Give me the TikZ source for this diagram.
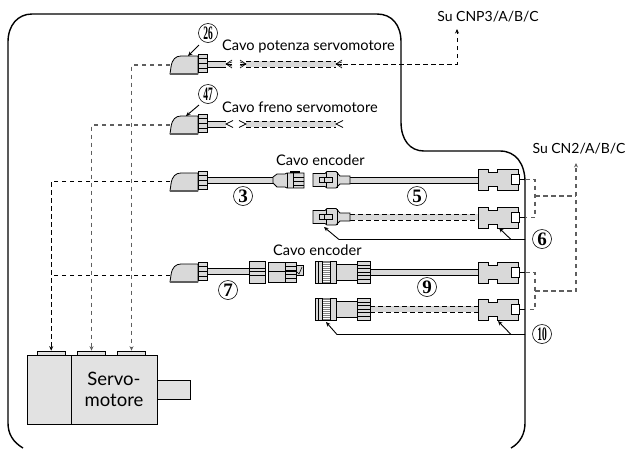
\documentclass[tikz,border=0pt]{standalone}
\usepackage{fontspec}
\setmainfont{Lato}
\newfontfamily\numfont{Liberation Serif}[Scale=1]
\usetikzlibrary{arrows.meta}

\definecolor{partgray}{HTML}{D9D9D9}
\definecolor{motorgray}{HTML}{E2E2E2}
\definecolor{dashgray}{HTML}{5E5E5E}

\tikzset{
    wire/.style={black, line width=.9pt, dash pattern=on 4.5pt off 3.5pt},
    graywire/.style={wire, dashgray, line width=1.1pt},
    tipline/.style={-{Stealth[length=4.5pt, width=4pt]}},
    leader/.style={black, line width=.9pt},
    numcircle/.style={circle, draw, line width=.6pt, inner sep=0pt, minimum size=19pt, font=\numfont\bfseries\fontsize{19}{19}\selectfont},
    label/.style={font=\fontsize{14.6}{15}\selectfont},
    sulabel/.style={font=\fontsize{14}{15}\selectfont},
    part/.style={draw, fill=partgray, line width=.8pt},
    tabbox/.style={draw, fill=motorgray, line width=.7pt, minimum width=28.5pt, minimum height=4pt, inner sep=0pt},
    motorbox/.style={draw, fill=motorgray, line width=.8pt, minimum height=69pt, inner sep=0pt},
    pics/motorplug/.style={code={
        \draw[part] (0,10) -- (1,3) .. controls (2,-5) and (6,-8) .. (11,-8) -- (28,-8) -- (28,10) -- cycle;
        \draw[dashgray, line width=1.6pt] (-.5,10) -- (28,10);
        \draw[part] (28,-10) rectangle (37,8);
        \draw[line width=.6pt] (28,-6) -- (37,-6) (28,-1) -- (37,-1) (28,4) -- (37,4);
    }},
    pics/wirefan/.style={code={
        \foreach \spread in {-4,-2,0,2,4}
            \draw[line width=.6pt] (0,0) -- (6,\spread);
    }},
    pics/wirefork/.style={code={
        \draw[line width=.7pt] (7,-3.5) -- (0,0) -- (7,3.5);
    }},
    pics/dsub/.style={code={
        \draw[part] (0,-10.5) -- (10,-10.5) -- (10,-7) -- (19,-7) -- (19,-10.5) -- (40,-10.5) -- (40,10.5)
            -- (19,10.5) -- (19,7) -- (10,7) -- (10,10.5) -- (0,10.5) -- cycle;
        \draw[fill=white, line width=.9pt] (33,-5.5) rectangle (41,5);
        \draw[line width=.7pt] (41,0) -- (47,0);
    }},
    pics/smallplug/.style={code={
        \draw[part] (0,-6.5) -- (12,-6.5) -- (14,-8.5) -- (23,-8.5) -- (27,-4) -- (37,-4) -- (37,4) -- (27,4) -- (23,8) -- (14,8) -- (12,6.5) -- (0,6.5) -- cycle;
        \draw[line width=.6pt] (13,-8) -- (13,8) (24,-8) -- (24,8);
        \draw[fill=partgray, line width=.7pt] (6,-2.5) rectangle (19,2.5);
        \draw[line width=.7pt] (11,-2.5) -- (11,2.5);
    }},
    pics/roundplug/.style={code={
        \draw[part] (0,-11) rectangle (21,11);
        \fill[gray] (7,-11) rectangle (15,11);
        \foreach \groove in {-9,-7,...,9}
            \draw[line width=.3pt, white] (7,\groove) -- (15,\groove);
        \draw[line width=.6pt] (3,-11) -- (3,11) (7,-11) -- (7,11) (15,-11) -- (15,11);
        \draw[part] (21,-8) rectangle (42,8);
        \draw[part] (42,-11) rectangle (55,11);
        \foreach \groove in {-7,-3.5,0,3.5,7}
            \draw[line width=.6pt] (42,\groove) -- (55,\groove);
    }},
}

\newcommand{\solidcable}[3]{%
    \fill[partgray] (#1,#3-3) rectangle (#2,#3+3);
    \draw[line width=.9pt] (#1,#3-3) -- (#2,#3-3) (#1,#3+3) -- (#2,#3+3);
}
\newcommand{\dashcable}[3]{%
    \fill[partgray] (#1,#3-3) rectangle (#2,#3+3);
    \draw[wire, line width=.8pt] (#1,#3-3) -- (#2,#3-3) (#1,#3+3) -- (#2,#3+3);
}

\begin{document}
\begin{tikzpicture}[x=1pt, y=-1pt]
    \useasboundingbox (0,0) rectangle (628,448);

    % Draw frame
    \draw[line width=1.4pt] (23,448) .. controls (13,442) and (8,434) .. (8,423) -- (8,42)
        .. controls (8,25) and (18,14) .. (32,14) -- (377,14)
        .. controls (392,14) and (401,25) .. (401,42) -- (401,122)
        .. controls (401,140) and (410,151) .. (424,151) -- (500,151)
        .. controls (516,151) and (525,164) .. (525,182) -- (525,423)
        .. controls (525,434) and (520,443) .. (511,448);

    % Draw motor
    \node[motorbox, minimum width=44pt] (brake) at (49,389.5) {};
    \node[motorbox, minimum width=86pt, align=center, font=\fontsize{18.5}{21}\selectfont] (motor) at (114,389.5) {Servo-\\motore};
    \node[draw, fill=motorgray, line width=.7pt, minimum width=33pt, minimum height=19pt, inner sep=0pt] (shaft) at (173.5,389.5) {};
    \node[tabbox] (tab1) at (51.2,353) {};
    \node[tabbox] (tab2) at (91.5,353) {};
    \node[tabbox] (tab3) at (131.5,353) {};

    % Draw cables
    \solidcable{207}{226}{64}
    \dashcable{246}{336}{64}
    \solidcable{207}{226}{124}
    \dashcable{246}{336}{124}
    \solidcable{206}{273}{180}
    \solidcable{350}{478}{180}
    \dashcable{350}{478}{217}
    \solidcable{205}{249}{271.5}
    \solidcable{370}{478}{272.5}
    \dashcable{370}{478}{309}

    % Draw connectors
    \pic at (170,64) {motorplug};
    \pic at (170,124) {motorplug};
    \pic at (170,181) {motorplug};
    \pic at (170,272) {motorplug};
    \pic at (226,64) {wirefan};
    \pic[xscale=-1] at (246,64) {wirefan};
    \pic at (336,64) {wirefan};
    \pic at (226,124) {wirefork};
    \pic[xscale=-1] at (246,124) {wirefork};
    \pic at (336,124) {wirefork};
    \pic at (478,179.5) {dsub};
    \pic at (478,217.5) {dsub};
    \pic at (478,272.5) {dsub};
    \pic at (478,309.5) {dsub};
    \pic at (313,180) {smallplug};
    \pic at (313,217) {smallplug};
    \pic at (315,272) {roundplug};
    \pic at (315,309) {roundplug};

    % Draw encoder plug
    \draw[part] (273,177) -- (277,174) -- (285,174) -- (287,173) -- (304,173) -- (304,188) -- (287,188) -- (285,187) -- (277,187) -- (273,183) -- cycle;
    \draw[line width=.6pt] (287,173) -- (287,188) (293,173) -- (293,188) (293,177) -- (304,177) (293,181) -- (304,181) (293,185) -- (304,185);
    \draw[line width=1.6pt] (290,172) -- (300,172);

    % Draw screw plug
    \draw[part] (249,261) rectangle (265,283);
    \draw[line width=.6pt] (249,268) -- (265,268) (249,271) -- (265,271) (249,275) -- (265,275);
    \draw[part] (268,262) rectangle (296,282);
    \draw[line width=.6pt] (268,271) -- (296,271) (285,262) -- (285,282);
    \draw[line width=.5pt] (285,266) -- (296,266) (285,270) -- (296,270) (285,274) -- (296,274) (285,278) -- (296,278);
    \draw[part] (296,265) rectangle (303,275);
    \draw[line width=.6pt] (297,272) -- (299,274) -- (302,267);

    % Draw connections
    \coordinate (plug26) at (170,65);
    \coordinate (plug47) at (170,125);
    \coordinate (plug3) at (170,181);
    \coordinate (plug7) at (170,275);
    \coordinate (cutA) at (343,64);
    \coordinate (cnp) at (457,29);
    \coordinate (cn) at (576,163);
    \coordinate (joinA) at (535,196);
    \coordinate (joinB) at (535,291);
    \draw[graywire, tipline] (plug26) -| (tab3.north);
    \draw[graywire, tipline] (plug47) -| (tab2.north);
    \draw[wire, tipline] (plug3) -| (tab1.north);
    \draw[wire] (plug7) -- (tab1.north |- plug7);
    \draw[wire, tipline] (cutA) -| (cnp);
    \draw[graywire] (525,179.5) -- (535,179.5) -- (535,217.5) -- (525,217.5);
    \draw[graywire] (525,272.5) -- (535,272.5) -- (535,309.5) -- (525,309.5);
    \draw[graywire] (joinA) -- (cn |- joinA);
    \draw[graywire, tipline] (joinB) -| (cn);

    % Labels
    \node[label, anchor=west, inner sep=0pt] (cavoA) at (222,46) {Cavo potenza servomotore};
    \node[label, anchor=west, inner sep=0pt] (cavoB) at (222,107) {Cavo freno servomotore};
    \node[label, anchor=west, inner sep=0pt] (cavoC) at (276,160) {Cavo encoder};
    \node[label, anchor=west, inner sep=0pt] (cavoD) at (273,250) {Cavo encoder};
    \node[sulabel, inner sep=0pt] (suA) at (488,17) {Su CNP3/A/B/C};
    \node[sulabel, inner sep=0pt] (suB) at (579,149) {Su CN2/A/B/C};

    % Numbers
    \node[numcircle] (n26) at (208,33) {\scalebox{.5}[1]{26}};
    \node[numcircle] (n47) at (208,94) {\scalebox{.5}[1]{47}};
    \node[numcircle] (n3) at (243,196) {3};
    \node[numcircle] (n5) at (417,196) {5};
    \node[numcircle] (n6) at (542,239) {6};
    \node[numcircle] (n7) at (228,290) {7};
    \node[numcircle] (n9) at (427,287) {9};
    \node[numcircle] (n10) at (542,334) {\scalebox{.5}[1]{10}};

    % Draw leaders
    \coordinate (leadF) at (525,239.5);
    \coordinate (leadT) at (525,334.5);
    \draw[leader, tipline] (leadF) -- (339,239.5) -- (324,227);
    \draw[leader, tipline] (511,239.5) -- (499,228);
    \draw[leader, tipline] (leadT) -- (337,334.5) -- (326,322);
    \draw[leader, tipline] (511,334.5) -- (498,321);
    \draw[leader, tipline] (199,45) -- (188,56);
    \draw[leader, tipline] (199,105) -- (186,116);
\end{tikzpicture}
\end{document}
